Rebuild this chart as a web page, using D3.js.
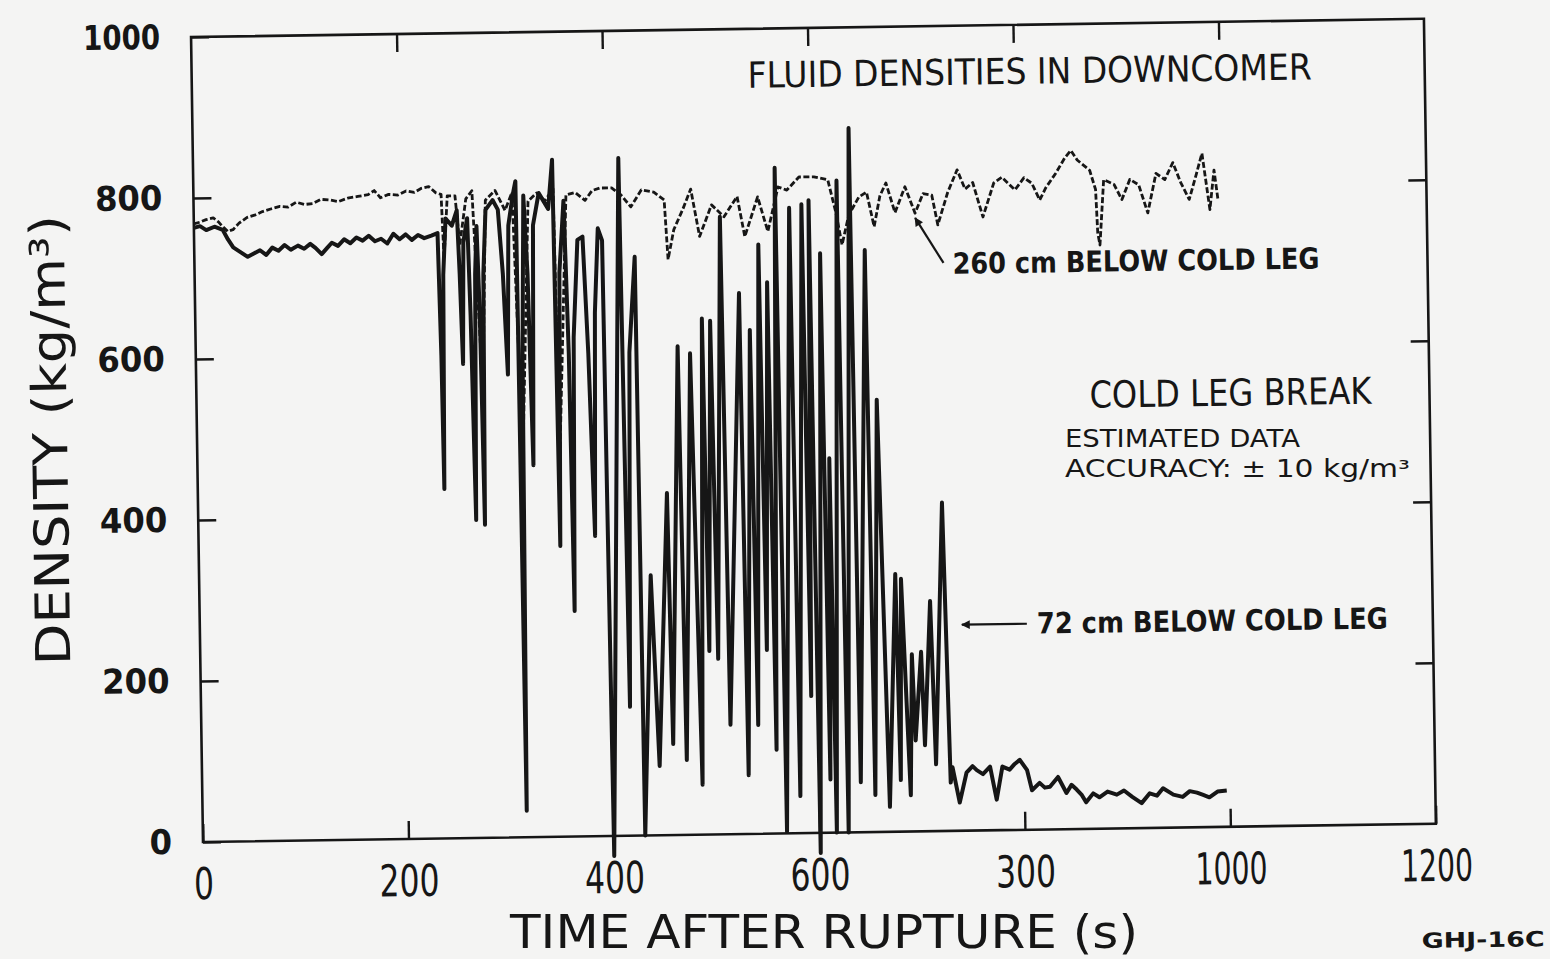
<!DOCTYPE html>
<html>
<head>
<meta charset="utf-8">
<script src="https://cdn.jsdelivr.net/npm/d3@7"></script>
<style>
  body { margin: 0; background: #f4f4f3; }
  svg { display: block; }
  text { font-family: "DejaVu Sans", sans-serif; fill: #161616; }
</style>
</head>
<body>
<div id="chart"></div>
<script>
////// data //////
// x ticks (the scan prints "300" where 800 should be)
var xTicks = [0, 200, 400, 600, 800, 1000, 1200];
var xTickLabels = ['0', '200', '400', '600', '300', '1000', '1200'];
var yTicks = [0, 200, 400, 600, 800, 1000];

// 260 cm below cold leg : [time (s), density (kg/m3)]
var trace260cm = [
  [0,768],[6,770],[12,773],[19,775],[24,770],[28,764],[33,758],[38,760],[44,768],[52,775],
  [60,778],[67,782],[75,785],[84,788],[92,787],[100,793],[108,790],[116,791],[124,796],[133,795],
  [141,793],[150,797],[160,799],[170,801],[176,806],[182,797],[190,801],[199,800],[207,805],[215,803],
  [222,808],[229,810],[236,802],[241,800],[243,720],[247,798],[254.5,798],[258.5,737],[265,794],[271,804],
  [279,556],[284,792],[293.5,804],[303,779],[310,801],[317,475],[325.5,790],[334,800],[342,790],[350,805],
  [353,476],[362.5,797],[371.5,800],[381,790],[388,802],[395.5,805],[407,805],[416,796],[425.5,781],[436,802],
  [448,799],[458,789],[461,715],[467,752],[476,777],[484,802],[492,743],[504,782],[516,767],[529,792],
  [536,742],[549,791],[558.5,748],[569,803],[577.5,799],[589.5,815],[604,815],[617.5,811],[625,770],[630.5,730],
  [637.5,767],[647.5,789],[655,795],[662,752],[668,790],[674,806],[682.5,769],[692.5,801],[702,768],[710,792],
  [718.5,790],[724,753],[734,793],[743.5,821],[751,797],[758.5,805],[768,762],[779,804],[787,811],[799.5,795],
  [808.5,810],[816,803],[823.5,782],[829.5,797],[839.5,815],[848.5,834],[854.5,843],[860.5,831],[872.5,818],[878,794],
  [879.5,740],[881.5,725],[886,806],[896,800],[903.5,781],[911.5,806],[920,799],[928.5,764],[937,813],[945.5,805],
  [953.5,826],[961,801],[969,780],[976,810],[982,837],[989,767],[993.5,816],[997,779]
];

// 72 cm below cold leg : [time (s), density (kg/m3)]
var trace72cm = [
  [0,763],[6,765],[12,760],[20,764],[28,760],[33,748],[38,738],[45,732],[52,726],[58,730],
  [64,734],[70,728],[76,737],[82,733],[88,740],[94,734],[101,739],[107,735],[113,741],[118,736],
  [124,728],[129,735],[134,742],[140,738],[146,746],[152,741],[158,748],[164,744],[170,750],[176,743],
  [182,746],[188,740],[194,752],[200,745],[206,751],[212,744],[218,750],[224,746],[231,749],[237,752],
  [239,600],[240,434],[242,700],[245,770],[251,761],[256,780],[258,700],[260,589],[262,740],[266,770],
  [268,650],[270.5,395],[273,700],[275,760],[277,650],[279,389],[281,700],[284,780],[291,792],[296,780],
  [300,700],[303.5,575],[306,760],[311,800],[313.5,815],[315.5,33],[318,600],[321,797],[324,700],[327,462],
  [330,760],[336,800],[340,791],[345,780],[349.5,841],[352,361],[355,700],[360,790],[363,600],[365,280],
  [368,620],[373,741],[378,745],[382,600],[386,373],[389,650],[393,755],[397,740],[400,-25],[414,842],
  [417.5,160],[422,600],[428.5,719],[430.5,0],[439.5,323],[445.5,86],[456.5,425],[459,113],[469,607],[472,93],
  [481,598],[487,62],[493,641],[495.5,228],[501,638],[504,218],[512,767],[515,136],[529.5,672],[532,73],
  [539.5,626],[542,135],[549,732],[551.5,228],[557,685],[559.5,104],[566,827],[568.5,2],[579.5,777],[582,46],
  [591.5,781],[594,170],[598.5,786],[601,-25],[609,720],[611.5,66],[615,465],[617,0],[626,810],[628.5,0],
  [638.5,875],[641,62],[652.5,723],[655,46],[662,537],[669,31],[677.5,320],[680,64],[683,314],[689.5,45],
  [692.5,220],[695,113],[701.5,223],[704,107],[711,286],[714.5,83],[724,408],[728.5,60],[730.5,79],[737,35],
  [744,72],[750,80],[754,75],[760,70],[767,79],[773,38],[779,79],[786,75],[791,82],[796,87],
  [803,74],[807.5,49],[815,58],[820,52],[825,53],[833,65],[841,45],[846,55],[851,49],[856,42],
  [860,33],[867,44],[873,39],[881,46],[890,42],[897,47],[905,39],[914,31],[922,43],[929,40],
  [935,49],[945,41],[954,38],[961,45],[968,43],[974,40],[980,37],[988,44],[997,45]
];

////// 畫布 //////
const width = 1550;
const height = 959;
const plot = {left: 203, right: 1436, top: 37, bottom: 842};
const tilt = -0.85;   // the scanned page is slightly rotated
const ink = '#161616';

var svg = d3.select('#chart')
  .append('svg')
    .attr('width', width)
    .attr('height', height);

svg.append('rect')
  .attr('width', width)
  .attr('height', height)
  .attr('fill', '#f4f4f3');

var g = svg.append('g')
  .attr('transform', `rotate(${tilt}, ${plot.left}, ${plot.bottom})`);

var x = d3.scaleLinear().domain([0, 1200]).range([plot.left, plot.right]);
var y = d3.scaleLinear().domain([0, 1000]).range([plot.bottom, plot.top]);

// 外框
g.append('rect')
  .attr('x', x(0))
  .attr('y', y(1000))
  .attr('width', x(1200) - x(0))
  .attr('height', y(0) - y(1000))
  .attr('fill', 'none')
  .attr('stroke', ink)
  .attr('stroke-width', 2.6);

// 下方X軸
var xAxis = g.append('g')
  .attr('transform', `translate(0, ${plot.bottom})`)
  .style('color', ink)
  .call(d3.axisBottom(x)
    .tickValues(xTicks)
    .tickSize(-18)
    .tickPadding(26)
    .tickFormat((d, i) => xTickLabels[i]));
xAxis.select('.domain').remove();
xAxis.selectAll('line').attr('stroke-width', 2.4);
xAxis.selectAll('text')
  .attr('font-size', 44)
  .attr('font-family', '"DejaVu Sans", sans-serif')
  .attr('textLength', d => {
    var n = xTickLabels[xTicks.indexOf(d)].length;
    return n == 4 ? 72 : n * 20;
  })
  .attr('lengthAdjust', 'spacingAndGlyphs');

// 上方刻度
var topAxis = g.append('g')
  .attr('transform', `translate(0, ${plot.top})`)
  .style('color', ink)
  .call(d3.axisTop(x).tickValues(xTicks.slice(1, -1)).tickSize(-18).tickFormat(''));
topAxis.select('.domain').remove();
topAxis.selectAll('line').attr('stroke-width', 2.4);

// 左邊Y軸
var yAxis = g.append('g')
  .attr('transform', `translate(${plot.left}, 0)`)
  .style('color', ink)
  .call(d3.axisLeft(y)
    .tickValues(yTicks)
    .tickSize(-18)
    .tickPadding(31)
    .tickFormat(d3.format('d')));
yAxis.select('.domain').remove();
yAxis.selectAll('line').attr('stroke-width', 2.4);
yAxis.selectAll('text')
  .attr('font-size', 34)
  .attr('font-weight', 'bold')
  .attr('font-family', '"DejaVu Sans", sans-serif')
  .attr('fill', '#262626')
  .attr('textLength', d => {
    var n = String(d).length;
    return n == 4 ? 77 : n * 22.5;
  })
  .attr('lengthAdjust', 'spacingAndGlyphs');

// 右邊刻度
var rightAxis = g.append('g')
  .attr('transform', `translate(${plot.right}, 0)`)
  .style('color', ink)
  .call(d3.axisRight(y).tickValues(yTicks.slice(1, -1)).tickSize(-18).tickFormat(''));
rightAxis.select('.domain').remove();
rightAxis.selectAll('line').attr('stroke-width', 2.4);

////// 曲線 //////
var line = d3.line()
  .x(d => x(d[0]))
  .y(d => y(d[1]));

g.append('path')
  .datum(trace260cm)
  .attr('d', line)
  .attr('fill', 'none')
  .attr('stroke', ink)
  .attr('stroke-width', 2.8)
  .attr('stroke-dasharray', '6 2.5')
  .attr('stroke-linejoin', 'round');

g.append('path')
  .datum(trace72cm)
  .attr('d', line)
  .attr('fill', 'none')
  .attr('stroke', ink)
  .attr('stroke-width', 4)
  .attr('stroke-linejoin', 'round');

////// 文字 //////
function label(parent, txt, px, py, size, len, weight) {
  return parent.append('text')
    .attr('x', px)
    .attr('y', py)
    .attr('font-size', size)
    .attr('font-weight', weight || 'normal')
    .attr('textLength', len)
    .attr('lengthAdjust', 'spacingAndGlyphs')
    .text(txt);
}

label(g, 'FLUID DENSITIES IN DOWNCOMER', 759, 96, 36, 564);
label(g, '260 cm BELOW COLD LEG', 961, 285, 29, 367, 'bold');
label(g, 'COLD LEG BREAK', 1096, 421, 37, 282);
label(g, '72 cm BELOW COLD LEG', 1040, 646, 29, 351, 'bold');
label(g, 'GHJ-16C', 1420, 966, 21, 123, 'bold');
// 不旋轉的文字 (two stacked lines and the x title sit too close to tilt them)
label(svg, 'ESTIMATED DATA', 1065, 447, 24, 235);
label(svg, 'ACCURACY: \u00b1 10 kg/m\u00b3', 1065, 477, 24, 345);
label(svg, 'TIME AFTER RUPTURE (s)', 510, 948, 46, 628);

g.append('text')
  .attr('transform', 'translate(73, 438) rotate(-90)')
  .attr('text-anchor', 'middle')
  .attr('font-size', 48)
  .attr('textLength', 450)
  .attr('lengthAdjust', 'spacingAndGlyphs')
  .text('DENSITY (kg/m\u00b3)');

// 箭頭
svg.append('defs').append('marker')
  .attr('id', 'head')
  .attr('viewBox', '0 0 10 10')
  .attr('refX', 9)
  .attr('refY', 5)
  .attr('markerWidth', 5)
  .attr('markerHeight', 4)
  .attr('orient', 'auto')
  .append('path')
    .attr('d', 'M0,0 L10,5 L0,10 Z')
    .attr('fill', ink);

g.append('line')
  .attr('x1', 952).attr('y1', 274)
  .attr('x2', x(702)).attr('y2', y(762))
  .attr('stroke', ink)
  .attr('stroke-width', 2.2)
  .attr('marker-end', 'url(#head)');

g.append('line')
  .attr('x1', 1030).attr('y1', 636)
  .attr('x2', 965).attr('y2', 636)
  .attr('stroke', ink)
  .attr('stroke-width', 2.2)
  .attr('marker-end', 'url(#head)');
</script>
</body>
</html>
